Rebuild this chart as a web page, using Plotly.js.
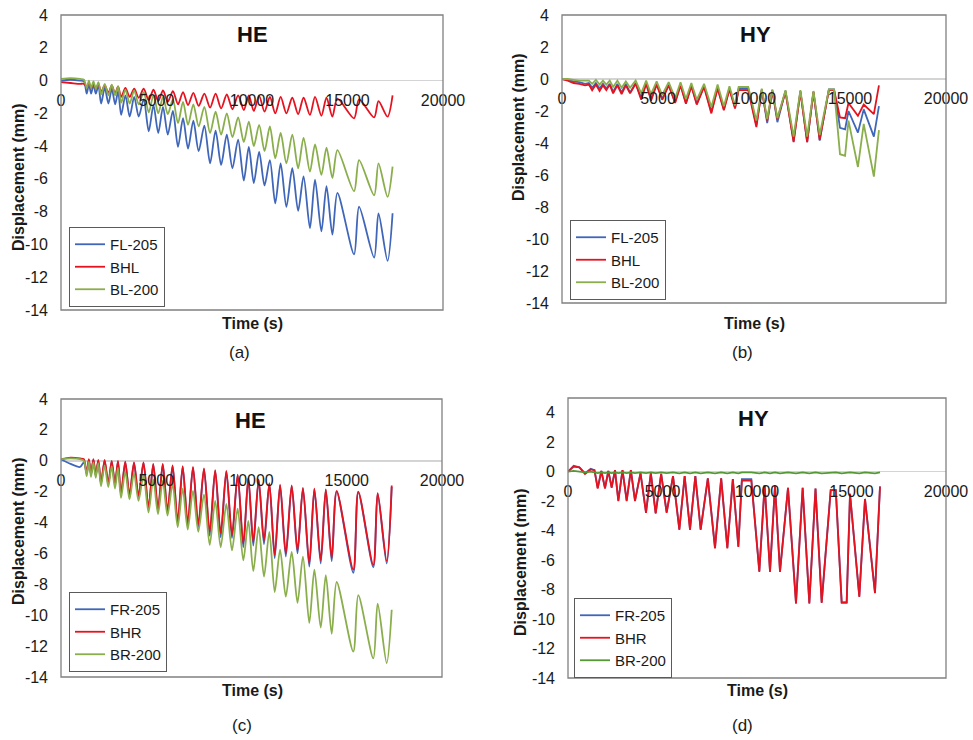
<!DOCTYPE html>
<html>
<head>
<meta charset="utf-8">
<script src="https://cdn.plot.ly/plotly-3.0.1.min.js"></script>
<style>html,body{margin:0;padding:0;background:#fff;}#chart{width:973px;height:740px;}</style>
</head>
<body>
<div id="chart"></div>
<script>
// ---------- DATA ----------
// HE loading protocol time base (panels a, c)
const timeHE = [0, 500, 1000, 1200,
 1349, 1462, 1575, 1700, 1822, 1960,
 2100, 2290, 2483, 2660, 2835, 2990,
 3150, 3373, 3596, 3832, 4068, 4330,
 4593, 4842, 5092, 5341, 5591, 5858,
 6126, 6388, 6651, 6929, 7207, 7506,
 7806, 8094, 8383, 8680, 8976, 9273,
 9570, 9833, 10094, 10375, 10656, 10936,
 11218, 11500, 11801, 12110, 12415, 12700,
 13034, 13300, 13633, 13900, 14210, 14472,
 15344, 15606, 16394, 16623, 17097, 17360];

// HY loading protocol time base (panels b, d)
const timeHY = [0, 300, 600, 900, 1200, 1400,
 1571, 1765, 1958, 2134, 2310, 2486,
 2663, 2884, 3104, 3325, 3545, 3836,
 4127, 4383, 4638, 4929, 5220, 5556,
 5891, 6173, 6455, 6737, 7019, 7399,
 7778, 8104, 8430, 8721, 9012, 9200, 9700,
 10123, 10405, 10688, 10953, 11217, 11640,
 12063, 12416, 12769, 13096, 13422, 13900, 14170,
 14480, 14745, 14921, 15413, 15714, 16243, 16508];

// (a) HE - left side
const aFL205 = [0, 0.05, 0.0, -0.05,
 -0.8, -0.2, -0.8, -0.25, -0.8, -0.3,
 -1.4, -0.45, -1.4, -0.5, -1.45, -0.65,
 -2.1, -0.9, -2.2, -1.0, -2.2, -1.15,
 -3.1, -1.5, -3.2, -1.6, -3.3, -1.85,
 -4.05, -2.3, -4.15, -2.45, -4.3, -2.75,
 -5.05, -3.05, -5.15, -3.3, -5.35, -3.6,
 -6.1, -4.05, -6.25, -4.35, -6.4, -4.85,
 -7.5, -5.05, -7.7, -5.35, -7.95, -5.85,
 -9.0, -6.05, -9.2, -6.45, -9.4, -6.85,
 -10.6, -7.7, -10.8, -8.1, -11.0, -8.1];
const aBHL = [-0.1, -0.15, -0.2, -0.2,
 -0.4, -0.15, -0.45, -0.2, -0.5, -0.2,
 -0.7, -0.3, -0.75, -0.3, -0.8, -0.35,
 -1.0, -0.45, -1.0, -0.5, -1.05, -0.5,
 -1.2, -0.55, -1.25, -0.6, -1.3, -0.65,
 -1.45, -0.7, -1.5, -0.75, -1.55, -0.8,
 -1.65, -0.8, -1.7, -0.85, -1.75, -0.9,
 -1.8, -0.9, -1.85, -0.95, -1.9, -1.0,
 -2.0, -1.0, -2.0, -1.05, -2.05, -1.05,
 -2.1, -1.0, -2.15, -1.05, -2.2, -1.1,
 -2.3, -1.15, -2.25, -1.25, -2.2, -0.9];
const aBL200 = [0.1, 0.15, 0.1, 0.05,
 -0.45, 0.0, -0.45, -0.05, -0.5, -0.1,
 -0.85, -0.2, -0.9, -0.25, -0.9, -0.35,
 -1.35, -0.55, -1.4, -0.6, -1.45, -0.7,
 -1.95, -0.9, -2.0, -1.0, -2.05, -1.15,
 -2.6, -1.3, -2.7, -1.45, -2.8, -1.6,
 -3.2, -1.9, -3.3, -2.0, -3.45, -2.25,
 -3.75, -2.5, -4.0, -2.7, -4.3, -2.8,
 -4.75, -3.2, -5.05, -3.3, -5.35, -3.5,
 -5.55, -3.9, -5.75, -4.1, -5.95, -4.25,
 -6.75, -4.85, -7.0, -5.05, -7.1, -5.25];

// (b) HY - left side
const bFL205 = [0, -0.05, -0.15, -0.2, -0.3, -0.25,
 -0.55, -0.25, -0.6, -0.3, -0.6, -0.3,
 -0.8, -0.3, -0.85, -0.3, -0.85, -0.25,
 -1.2, -0.25, -1.25, -0.3, -1.25, -0.35,
 -1.45, -0.35, -1.5, -0.4, -1.55, -0.45,
 -2.05, -0.55, -1.9, -0.6, -1.8, -0.6, -0.6,
 -2.9, -0.65, -2.75, -0.7, -2.7, -0.75,
 -3.9, -0.75, -3.95, -0.8, -3.85, -0.65, -0.65,
 -3.05, -3.15, -2.0, -3.35, -1.9, -3.6, -1.7];
const bBHL = [0, -0.1, -0.25, -0.3, -0.4, -0.35,
 -0.7, -0.35, -0.75, -0.4, -0.7, -0.35,
 -0.9, -0.4, -0.95, -0.4, -0.9, -0.3,
 -1.3, -0.3, -1.35, -0.35, -1.3, -0.4,
 -1.5, -0.4, -1.55, -0.45, -1.6, -0.5,
 -2.15, -0.6, -1.95, -0.65, -1.85, -0.7, -0.7,
 -3.0, -0.7, -2.6, -0.75, -2.5, -0.8,
 -3.95, -0.8, -3.95, -0.8, -3.8, -0.7, -0.7,
 -2.4, -2.45, -1.5, -2.3, -1.6, -2.2, -0.4];
const bBL200 = [0, 0.0, -0.05, -0.1, -0.1, -0.1,
 -0.3, -0.05, -0.35, -0.1, -0.35, -0.1,
 -0.5, -0.1, -0.55, -0.15, -0.55, -0.1,
 -0.9, -0.1, -0.95, -0.15, -1.0, -0.2,
 -1.2, -0.2, -1.25, -0.25, -1.3, -0.3,
 -1.75, -0.35, -1.7, -0.45, -1.65, -0.5, -0.5,
 -2.6, -0.6, -2.5, -0.65, -2.45, -0.7,
 -3.6, -0.7, -3.6, -0.75, -3.5, -0.65, -0.65,
 -4.7, -4.8, -2.6, -5.5, -2.8, -6.1, -3.2];

// (c) HE - right side
const cFR205 = [0.1, -0.2, -0.4, -0.1,
 -0.85, 0.05, -0.9, 0.05, -0.95, 0.0,
 -1.5, 0.0, -1.5, -0.05, -1.55, -0.05,
 -2.2, -0.1, -2.3, -0.15, -2.35, -0.15,
 -3.15, -0.25, -3.25, -0.25, -3.35, -0.35,
 -4.1, -0.4, -4.2, -0.45, -4.3, -0.55,
 -4.85, -0.65, -4.95, -0.7, -5.0, -0.95,
 -5.6, -1.15, -5.5, -1.25, -5.4, -1.5,
 -6.3, -1.6, -6.2, -1.65, -6.0, -1.8,
 -6.85, -1.85, -6.65, -1.9, -6.5, -2.0,
 -7.25, -2.05, -6.9, -2.15, -6.65, -1.7];
const cBHR = [0.1, 0.2, 0.15, 0.1,
 -0.8, 0.1, -0.85, 0.1, -0.9, 0.05,
 -1.45, 0.05, -1.45, 0.0, -1.5, 0.0,
 -2.1, -0.05, -2.2, -0.1, -2.25, -0.1,
 -3.0, -0.2, -3.1, -0.2, -3.2, -0.3,
 -3.9, -0.35, -4.0, -0.4, -4.1, -0.5,
 -4.6, -0.6, -4.7, -0.65, -4.8, -0.9,
 -5.35, -1.1, -5.25, -1.2, -5.15, -1.45,
 -6.1, -1.55, -6.0, -1.6, -5.8, -1.75,
 -6.65, -1.8, -6.45, -1.85, -6.3, -1.95,
 -7.05, -2.0, -6.75, -2.1, -6.5, -1.6];
const cBR200 = [0.1, 0.15, 0.1, 0.0,
 -1.0, -0.05, -1.05, -0.1, -1.1, -0.15,
 -1.65, -0.3, -1.7, -0.35, -1.8, -0.45,
 -2.4, -0.7, -2.5, -0.8, -2.6, -0.95,
 -3.35, -1.2, -3.45, -1.3, -3.55, -1.5,
 -4.3, -1.8, -4.45, -1.95, -4.6, -2.2,
 -5.45, -2.6, -5.6, -2.8, -5.8, -3.1,
 -6.45, -3.9, -7.15, -4.3, -7.5, -4.6,
 -8.5, -5.75, -8.8, -5.9, -9.2, -6.2,
 -10.5, -7.05, -10.8, -7.4, -11.2, -7.85,
 -12.35, -8.7, -12.8, -9.25, -13.1, -9.65];

// (d) HY - right side
const dFR205 = [0, 0.4, 0.3, -0.1, 0.2, 0.1,
 -1.1, 0.05, -1.1, 0.05, -1.05, 0.1,
 -1.95, 0.1, -1.95, 0.1, -1.95, -0.1,
 -2.75, -0.1, -2.8, -0.15, -2.75, -0.3,
 -3.9, -0.3, -3.9, -0.3, -3.9, -0.45,
 -5.15, -0.45, -5.15, -0.5, -5.05, -0.5, -0.5,
 -6.75, -0.9, -6.75, -0.95, -6.75, -1.1,
 -8.9, -1.1, -8.9, -1.15, -8.85, -1.25, -1.25,
 -8.85, -8.85, -1.5, -8.45, -1.85, -8.2, -1.0];
const dBHR = [0, 0.35, 0.3, -0.15, 0.15, 0.1,
 -1.15, 0.05, -1.15, 0.05, -1.1, 0.1,
 -2.0, 0.1, -2.0, 0.1, -2.0, -0.1,
 -2.8, -0.1, -2.85, -0.15, -2.8, -0.3,
 -3.95, -0.3, -3.95, -0.3, -3.95, -0.45,
 -5.2, -0.45, -5.2, -0.5, -5.1, -0.6, -0.6,
 -6.8, -0.9, -6.8, -0.95, -6.8, -1.1,
 -8.95, -1.1, -8.95, -1.15, -8.9, -1.25, -1.25,
 -8.9, -8.9, -1.5, -8.5, -1.85, -8.25, -1.0];
const dBR200 = [0, 0.05, 0.0, -0.05, 0.0, -0.05,
 -0.1, -0.05, -0.1, -0.05, -0.1, -0.05,
 -0.1, -0.05, -0.1, -0.05, -0.1, -0.05,
 -0.1, -0.05, -0.1, -0.05, -0.1, -0.05,
 -0.12, -0.05, -0.12, -0.05, -0.12, -0.05,
 -0.12, -0.05, -0.12, -0.05, -0.12, -0.05, -0.05,
 -0.12, -0.05, -0.12, -0.05, -0.12, -0.05,
 -0.12, -0.05, -0.12, -0.05, -0.12, -0.05, -0.05,
 -0.12, -0.1, -0.05, -0.12, -0.05, -0.12, -0.05];

const seriesNamesLeft = ['FL-205', 'BHL', 'BL-200'];
const seriesNamesRight = ['FR-205', 'BHR', 'BR-200'];
const panelTitles = ['HE', 'HY', 'HE', 'HY'];
const panelLabels = ['(a)', '(b)', '(c)', '(d)'];
const yTickVals = [-14, -12, -10, -8, -6, -4, -2, 0, 2, 4];
const xTickVals = [0, 5000, 10000, 15000, 20000];
const xTitle = 'Time (s)';
const yTitle = 'Displacement (mm)';

// ---------- STYLE / LAYOUT ----------
const W = 973, H = 740;
const FONT = 'Arial, "Liberation Sans", sans-serif';
const TXT = '#1a1a1a';
const COLORS = {blue: '#3f66b8', red: '#e5121f', green: '#8aae4b', dgreen: '#559836'};

// panel plot-area boxes in pixels: [left, right, top, bottom], y ranges
const boxes = [
  {l: 61, r: 443, t: 15, b: 310, yr: [-14, 4]},
  {l: 562, r: 946, t: 15, b: 303, yr: [-14, 4]},
  {l: 61, r: 442, t: 399, b: 677, yr: [-14, 4]},
  {l: 568, r: 946, t: 398, b: 678, yr: [-14, 5]}
];
const px = x => x / W;
const py = y => 1 - y / H;

const panels = [
  {t: timeHE, s: [aFL205, aBHL, aBL200], n: seriesNamesLeft, shape: 'spline', g: COLORS.green},
  {t: timeHY, s: [bFL205, bBHL, bBL200], n: seriesNamesLeft, shape: 'linear', g: COLORS.green},
  {t: timeHE, s: [cFR205, cBHR, cBR200], n: seriesNamesRight, shape: 'spline', g: COLORS.green},
  {t: timeHY, s: [dFR205, dBHR, dBR200], n: seriesNamesRight, shape: 'linear', g: COLORS.dgreen}
];

// legend box: left edge and vertical centre (px)
const legendPos = [[69, 267], [570, 260], [69, 632], [574, 638]];
const titlePos = [[252, 35], [755, 35], [250, 420], [753, 418]];
const xTitlePos = [[252, 323], [754, 323], [252, 690], [757, 690]];
const labelPos = [[239, 352], [742, 352], [242, 725], [742, 725]];
const yTitlePos = [[18, 177], [518, 127], [18, 531], [520, 562]];

const traces = [];
const layout = {
  width: W, height: H,
  margin: {l: 0, r: 0, t: 0, b: 0},
  paper_bgcolor: '#ffffff', plot_bgcolor: '#ffffff',
  font: {family: FONT, size: 16, color: TXT},
  showlegend: true,
  annotations: [], shapes: []
};

panels.forEach((p, i) => {
  const k = i === 0 ? '' : String(i + 1);
  const bx = boxes[i];
  const colors = [COLORS.blue, COLORS.red, p.g];
  const legendId = i === 0 ? 'legend' : 'legend' + (i + 1);
  p.s.forEach((vals, j) => {
    traces.push({
      type: 'scatter', mode: 'lines',
      x: p.t, y: vals, name: p.n[j],
      xaxis: 'x' + k, yaxis: 'y' + k,
      legend: legendId,
      line: {color: colors[j], width: 1.8, shape: p.shape, smoothing: 0.8},
      hoverinfo: 'skip'
    });
  });
  const yd = [py(bx.b), py(bx.t)];
  const zeroPos = yd[0] + (0 - bx.yr[0]) / (bx.yr[1] - bx.yr[0]) * (yd[1] - yd[0]);
  layout['xaxis' + k] = {
    domain: [px(bx.l), px(bx.r)], range: [0, 20000],
    anchor: 'free', position: zeroPos,
    tickvals: xTickVals, ticktext: xTickVals.map(String),
    ticks: 'outside', ticklen: 5, tickcolor: 'rgba(0,0,0,0)',
    showgrid: false, zeroline: false, showline: false,
    tickfont: {family: FONT, size: 16, color: TXT}
  };
  layout['yaxis' + k] = {
    domain: yd, range: bx.yr, anchor: 'x' + k,
    tickvals: yTickVals, ticktext: yTickVals.map(String),
    ticks: '', ticklabelstandoff: 12,
    showgrid: false, showline: false,
    zeroline: true, zerolinecolor: '#d4d4d4', zerolinewidth: 1.5,
    tickfont: {family: FONT, size: 16, color: TXT}
  };
  layout.shapes.push({
    type: 'rect', xref: 'x' + k + ' domain', yref: 'y' + k + ' domain',
    x0: 0, x1: 1, y0: 0, y1: 1, layer: 'above',
    line: {color: '#808080', width: 1.3}
  });
  layout[legendId] = {
    x: px(legendPos[i][0]), y: py(legendPos[i][1]),
    xanchor: 'left', yanchor: 'middle',
    bgcolor: '#ffffff', bordercolor: '#5a5a5a', borderwidth: 1,
    font: {family: FONT, size: 15, color: TXT},
    tracegroupgap: 0, itemwidth: 30
  };
  layout.annotations.push(
    {text: '<b>' + panelTitles[i] + '</b>', xref: 'paper', yref: 'paper',
     x: px(titlePos[i][0]), y: py(titlePos[i][1]), showarrow: false,
     xanchor: 'center', yanchor: 'middle', font: {family: FONT, size: 22, color: '#111'}},
    {text: '<b>' + xTitle + '</b>', xref: 'paper', yref: 'paper',
     x: px(xTitlePos[i][0]), y: py(xTitlePos[i][1]), showarrow: false,
     xanchor: 'center', yanchor: 'middle', font: {family: FONT, size: 16, color: TXT}},
    {text: '<b>' + yTitle + '</b>', xref: 'paper', yref: 'paper', textangle: -90,
     x: px(yTitlePos[i][0]), y: py(yTitlePos[i][1]), showarrow: false,
     xanchor: 'center', yanchor: 'middle', font: {family: FONT, size: 16, color: TXT}},
    {text: panelLabels[i], xref: 'paper', yref: 'paper',
     x: px(labelPos[i][0]), y: py(labelPos[i][1]), showarrow: false,
     xanchor: 'center', yanchor: 'middle', font: {family: FONT, size: 17, color: TXT}}
  );
});

Plotly.newPlot('chart', traces, layout, {displayModeBar: false, staticPlot: true});
</script>
</body>
</html>
